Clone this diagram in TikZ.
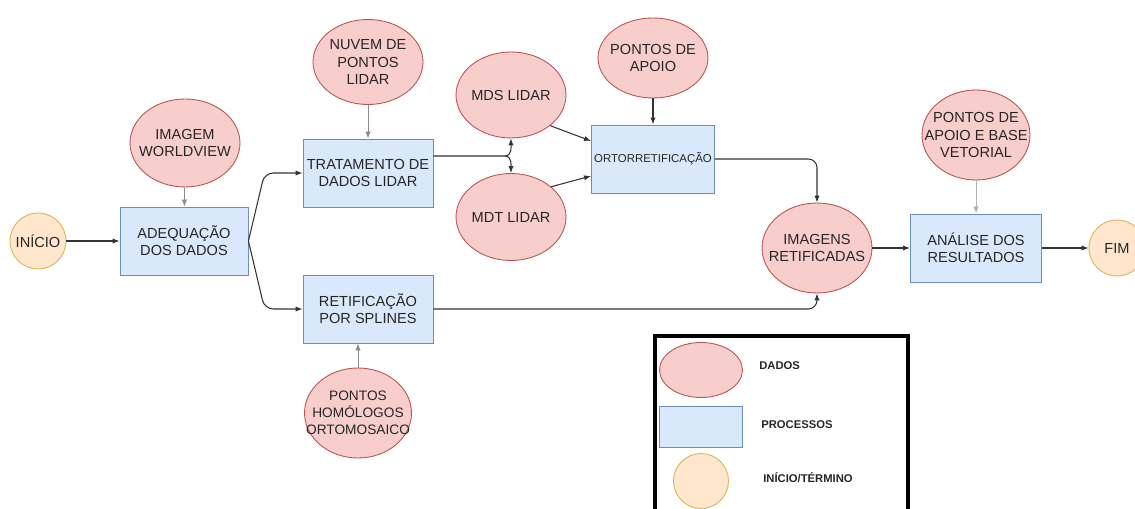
\documentclass[tikz,border=0pt]{standalone}
\usepackage{fontspec}
\setmainfont{Liberation Sans}
\usepackage{xcolor}
\usepackage{tikz}
\usetikzlibrary{shapes.geometric,arrows.meta,calc,positioning}
\definecolor{dadofill}{HTML}{F8CECC}
\definecolor{dadoline}{HTML}{B85450}
\definecolor{procfill}{HTML}{DAE8FC}
\definecolor{procline}{HTML}{6C8EBF}
\definecolor{termfill}{HTML}{FFE6CC}
\definecolor{termline}{HTML}{D6B656}
\tikzset{
	>={Latex[length=4pt,width=3pt]},
	dados/.style = {
			ellipse,
			fill            = dadofill,
			draw            = dadoline,
			line width      = 0.5pt,
			minimum width   = 2.2cm,
			minimum height  = 1.76cm,
			inner sep       = -1cm,
			align           = center,
		},
	processo/.style = {
			rectangle,
			fill            = procfill,
			draw            = procline,
			line width      = 0.5pt,
			minimum width   = 2.6cm,
			minimum height  = 1.36cm,
			inner sep       = -1cm,
			align           = center,
		},
	terminal/.style = {
			circle,
			fill            = termfill,
			draw            = termline,
			line width      = 0.5pt,
			minimum size    = 1.12cm,
			inner sep       = 0pt,
		},
	fluxo/.style = {->, draw=black!80, line width=0.6pt},
	fluxoclaro/.style = {->, draw=black!45, line width=0.4pt},
	legenda/.style = {font=\fontsize{6.4}{7}\selectfont\bfseries, anchor=west, inner sep=0pt},
}

\begin{document}
\begin{tikzpicture}[x=0.02cm,y=-0.02cm,font=\fontsize{8.3}{9.8}\selectfont,text=black!85]
		\useasboundingbox (0,0) rectangle (1135,509);

		\node[terminal] at (38,241) (inicio) {INÍCIO};
		\node[processo, minimum width=2.56cm] at (184,241) (adequacao) {ADEQUAÇÃO\\DOS DADOS};
		\node[dados] at (185,143) (worldview) {IMAGEM\\WORLDVIEW};

		\node[dados, minimum height=1.7cm] at (368,62) (nuvem) {NUVEM DE\\PONTOS\\LIDAR};
		\node[processo] at (368,173) (tratamento) {TRATAMENTO DE\\DADOS LIDAR};
		\node[processo] at (368,309) (splines) {RETIFICAÇÃO\\POR SPLINES};
		\node[dados, minimum width=2.14cm, minimum height=1.8cm, font=\fontsize{7.8}{9.8}\selectfont] at (358,413) (homologos) {PONTOS\\HOMÓLOGOS\\ORTOMOSAICO};

		\node[dados, minimum height=1.72cm] at (511,95) (mds) {MDS LIDAR};
		\node[dados, minimum height=1.74cm] at (511,217) (mdt) {MDT LIDAR};

		\node[dados, minimum height=1.6cm] at (653,58) (apoio) {PONTOS DE\\APOIO};
		\node[processo, minimum width=2.46cm, font=\fontsize{6.5}{8}\selectfont] at (653,159) (orto) {ORTORRETIFICAÇÃO};

		\node[dados, minimum height=1.8cm] at (817,248) (retificadas) {IMAGENS\\RETIFICADAS};
		\node[dados, minimum width=2.16cm, minimum height=1.8cm] at (976,135) (vetorial) {PONTOS DE\\APOIO E BASE\\VETORIAL};
		\node[processo, minimum width=2.62cm] at (976,248) (analise) {ANÁLISE DOS\\RESULTADOS};
		\node[terminal] at (1117,248) (fim) {FIM};

		\draw[fluxo] (inicio) -- (adequacao);
		\draw[fluxoclaro] (worldview) -- (adequacao);
		\draw[fluxo, rounded corners=5pt] (adequacao.east) -- ($(tratamento.west)+(-38,0)$) -- (tratamento.west);
		\draw[fluxo, rounded corners=5pt] (adequacao.east) -- ($(splines.west)+(-38,0)$) -- (splines.west);
		\draw[fluxoclaro] (nuvem) -- (tratamento);
		\draw[fluxoclaro] (homologos) -- (homologos |- splines.south);

		\coordinate (bifurca) at (505,156);
		\draw[fluxo] (tratamento.east |- bifurca) -- (bifurca) to[out=0,in=-90] (mds.south);
		\draw[fluxo] (bifurca) to[out=0,in=90] (mdt.north);
		\draw[fluxo] (mds.-38) -- ([yshift=0.36cm]orto.west);
		\draw[fluxo] (mdt.37) -- ([yshift=-0.34cm]orto.west);
		\draw[fluxo] (apoio) -- (orto);

		\draw[fluxo, rounded corners=5pt] (orto.east) -| (retificadas.north);
		\draw[fluxo, rounded corners=5pt] (splines.east) -| (retificadas.south);
		\draw[fluxo] (retificadas) -- (analise);
		\draw[fluxoclaro, draw=black!30] (vetorial) -- (analise);
		\draw[fluxo] (analise) -- (fim);

		\draw[line width=2pt] (655,336) rectangle (908,545);
		\node[dados, minimum width=1.66cm, minimum height=1.1cm] at (701,370) (legdados) {};
		\node[processo, minimum width=1.66cm, minimum height=0.82cm] at (701,427) (legproc) {};
		\node[terminal, minimum size=1.1cm] at (701,481) (legterm) {};
		\node[legenda] at (759,366) (txtdados) {DADOS};
		\node[legenda] at (761,425) (txtproc) {PROCESSOS};
		\node[legenda] at (763,478) (txtterm) {INÍCIO/TÉRMINO};
	\end{tikzpicture}
\end{document}
